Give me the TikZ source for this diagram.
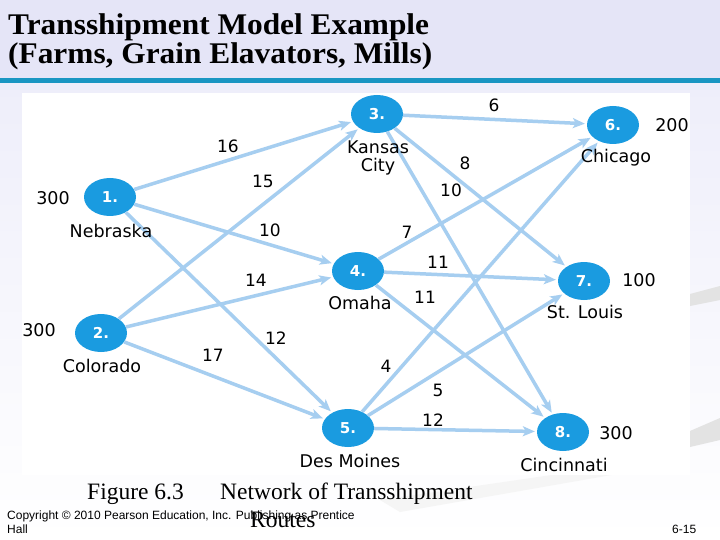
\documentclass[tikz,border=0pt]{standalone}
\usepackage{fontspec}
\setmainfont{Liberation Serif}
\setsansfont{DejaVu Sans}
\newfontfamily\cprfont{Liberation Sans}
\usetikzlibrary{arrows.meta,shapes.geometric}
\definecolor{NodeBlue}{HTML}{1A9BE0}
\definecolor{RouteBlue}{HTML}{A6CEF0}
\definecolor{BarTeal}{HTML}{1A96C2}
\definecolor{HeadLav}{HTML}{E5E5F7}
\definecolor{PageLav}{HTML}{EEEEFA}

\begin{document}
\begin{tikzpicture}[x=1pt,y=-1pt,
  stn/.style={ellipse,fill=NodeBlue,minimum width=52pt,minimum height=38pt,inner sep=0pt,text=white,font=\sffamily\bfseries\fontsize{15}{15}\selectfont},
  route/.style={-{Stealth[length=12pt,width=10pt,inset=3pt]},line width=3.5pt,draw=RouteBlue,shorten >=2pt},
  lbl/.style={font=\sffamily\fontsize{17.5}{18}\selectfont,inner sep=0pt,align=center},
  cost/.style={font=\sffamily\fontsize{17}{18}\selectfont,inner sep=0pt},
  headline/.style={anchor=base west,inner sep=0pt,font=\bfseries\fontsize{30}{32}\selectfont,xscale=1.045,transform shape},
  caption/.style={anchor=base west,inner sep=0pt,font=\fontsize{23.5}{26}\selectfont},
  footer/.style={anchor=base west,inner sep=0pt,font=\cprfont\fontsize{12}{13}\selectfont},
  swoosh/.style={fill=gray!22,draw=none}
]
\useasboundingbox (0,0) rectangle (720,540);
% slide background
\shade[top color=PageLav,bottom color=white] (0,83) rectangle (720,540);
\fill[HeadLav] (0,0) rectangle (720,78);
\fill[BarTeal] (0,78) rectangle (720,83);
\fill[swoosh] (690,294) -- (720,286) -- (720,300) -- (690,306) -- cycle;
\fill[swoosh] (690,431) -- (720,418) -- (720,440) -- (690,447) -- cycle;
\fill[gray!8] (380,500) -- (600,468) -- (640,470) -- (400,512) -- cycle;
\fill[white] (22,93) rectangle (690,475);

% title
\node[headline] (title1) at (8,35) {Transshipment Model Example};
\node[headline] (title2) at (8,64) {(Farms, Grain Elavators, Mills)};

% stations
\node[stn] (n1) at (110,197) {1.};
\node[stn] (n2) at (101,333) {2.};
\node[stn] (n3) at (377,114) {3.};
\node[stn] (n4) at (358,271) {4.};
\node[stn] (n5) at (348,428) {5.};
\node[stn] (n6) at (613,125) {6.};
\node[stn] (n7) at (584,281) {7.};
\node[stn] (n8) at (563,432) {8.};

% routes
\draw[route] (n1) -- (n3);
\draw[route] (n1) -- (n4);
\draw[route] (n1) -- (n5);
\draw[route] (n2) -- (n3);
\draw[route] (n2) -- (n4);
\draw[route] (n2) -- (n5);
\draw[route] (n3) -- (n6);
\draw[route] (n3) -- (n7);
\draw[route] (n3) -- (n8);
\draw[route] (n4) -- (n6);
\draw[route] (n4) -- (n7);
\draw[route] (n4) -- (n8);
\draw[route] (n5) -- (n6);
\draw[route] (n5) -- (n7);
\draw[route] (n5) -- (n8);

% names and amounts
\node[lbl] (neb) at (111,231) {Nebraska};
\node[lbl] (col) at (102,366) {Colorado};
\node[lbl] (kc) at (378,158) {Kansas\\City};
\node[lbl] (oma) at (360,303) {Omaha};
\node[lbl] (dsm) at (350,461) {Des Moines};
\node[lbl] (chi) at (616,158) {Chicago};
\node[lbl] (stl) at (585,312) {St. Louis};
\node[lbl] (cin) at (564,465) {Cincinnati};
\node[lbl] (s1) at (53,198) {300};
\node[lbl] (s2) at (39,330) {300};
\node[lbl] (d6) at (672,125) {200};
\node[lbl] (d7) at (639,280) {100};
\node[lbl] (d8) at (616,433) {300};

% costs
\node[cost] (c13) at (228,146) {16};
\node[cost] (c23) at (263,181) {15};
\node[cost] (c14) at (270,230) {10};
\node[cost] (c24) at (256,280) {14};
\node[cost] (c15) at (276,338) {12};
\node[cost] (c25) at (213,355) {17};
\node[cost] (c36) at (494,105) {6};
\node[cost] (c37) at (465,163) {8};
\node[cost] (c38) at (451,190) {10};
\node[cost] (c46) at (407,232) {7};
\node[cost] (c47) at (438,262) {11};
\node[cost] (c48) at (425,297) {11};
\node[cost] (c56) at (386,366) {4};
\node[cost] (c57) at (438,390) {5};
\node[cost] (c58) at (433,420) {12};

% caption and footer
\node[caption] (fig) at (87,499) {Figure 6.3};
\node[caption] (cap1) at (220,499) {Network of Transshipment};
\node[caption] (cap2) at (250,527) {Routes};
\node[footer] (copy1) at (7,519) {Copyright © 2010 Pearson Education, Inc. Publishing as Prentice};
\node[footer] (copy2) at (7,533) {Hall};
\node[footer] (page) at (672,533) {6-15};
\end{tikzpicture}
\end{document}
